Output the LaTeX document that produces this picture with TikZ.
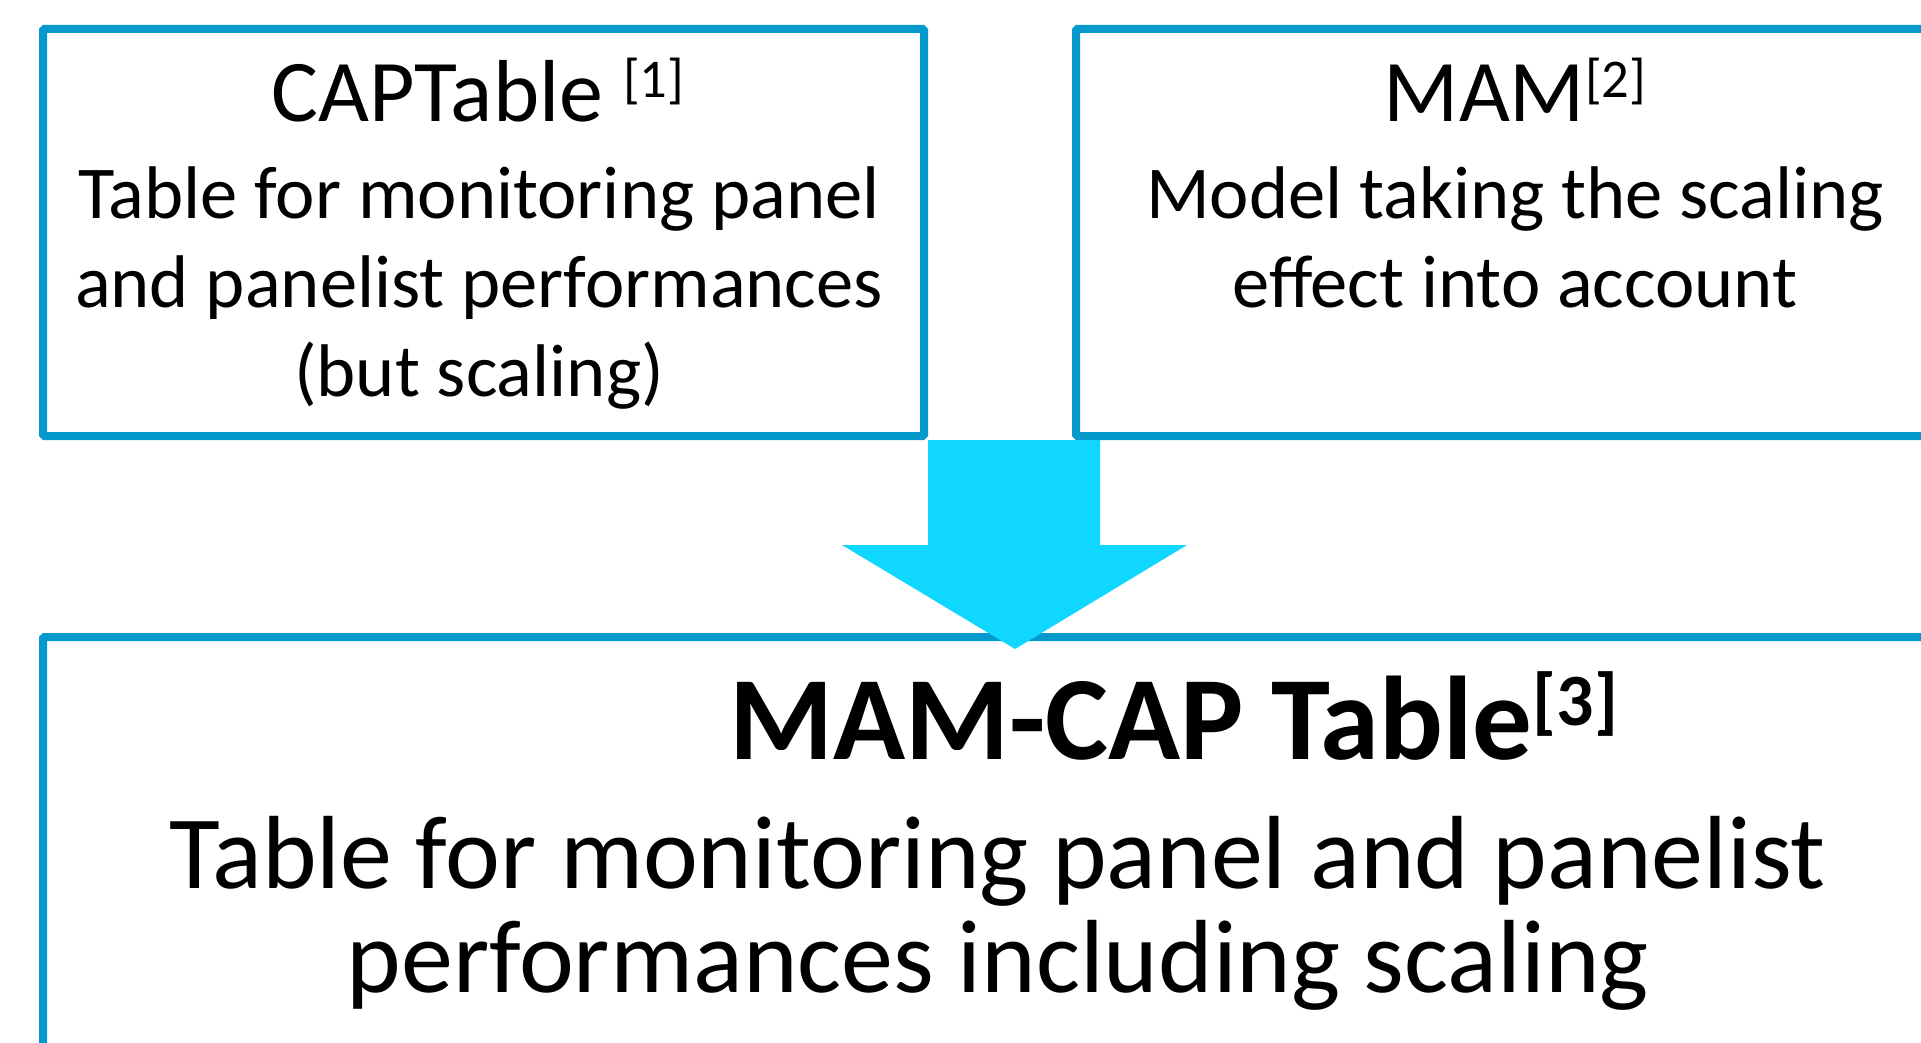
\documentclass[tikz,border=0pt]{standalone}
\usepackage{fontspec}
\setmainfont{Carlito}
\usepackage{graphicx}
\usetikzlibrary{positioning, calc}
\definecolor{cFrame}{HTML}{0399CD}
\definecolor{cArrow}{HTML}{10D7FF}
\newcommand{\refsup}[1]{\raisebox{0.28em}{\scalebox{0.62}{[#1]}}}

\begin{document}
\begin{tikzpicture}[
  x=1pt, y=-1pt,
  panelbox/.style={
    draw=cFrame, line width=8pt, fill=white, rounded corners=1.5pt,
    inner sep=0pt, anchor=north west
  },
  boxtitle/.style={
    font=\fontsize{88}{104}\selectfont, inner sep=0pt, anchor=base
  },
  boxdesc/.style={
    font=\fontsize{74.6}{89}\selectfont, align=center, inner sep=0pt, anchor=base
  },
  tabletitle/.style={
    font=\fontsize{119}{140}\selectfont\bfseries, inner sep=0pt, anchor=base west
  },
  tabledesc/.style={
    font=\fontsize{104}{104}\selectfont, align=center, inner sep=0pt, anchor=base
  },
  flowarrow/.style={fill=cArrow, draw=none},
]
\useasboundingbox (0,0) rectangle (1921,1043);
\clip (0,0) rectangle (1921,1043);

% CAPTable
\node[panelbox, minimum width=881pt, minimum height=407pt] (capbox) at (39,25) {};
\node[boxtitle] (captitle) at (478,122) {CAPTable \refsup{1}};
\node[boxdesc] (capdesc) at (479,396) {Table for monitoring panel\\
  and panelist performances\\(but scaling)};

% MAM
\node[panelbox, minimum width=883pt, minimum height=407pt] (mambox) at (1072,25) {};
\node[boxtitle] (mamtitle) at (1515,122) {MAM\refsup{2}};
\node[boxdesc] (mamdesc) at (1515,307) {Model taking the scaling\\effect into account};

% MAM-CAP Table
\node[panelbox, minimum width=1918pt, minimum height=500pt] (tablebox) at (39,633) {};
\node[tabletitle] (tabletitle) at (729,759) {MAM-CAP Table\refsup{3}};
\node[tabledesc] (tabledesc) at (998,992) {Table for monitoring panel and panelist\\
  performances including scaling};

% arrow
\fill[flowarrow] (capbox.south east) -- ++(172,0) -- ++(0,105) -- ++(87,0)
  -- ++(-172,104) -- ++(-173,-104) -- ++(86,0) -- cycle;

\end{tikzpicture}
\end{document}
